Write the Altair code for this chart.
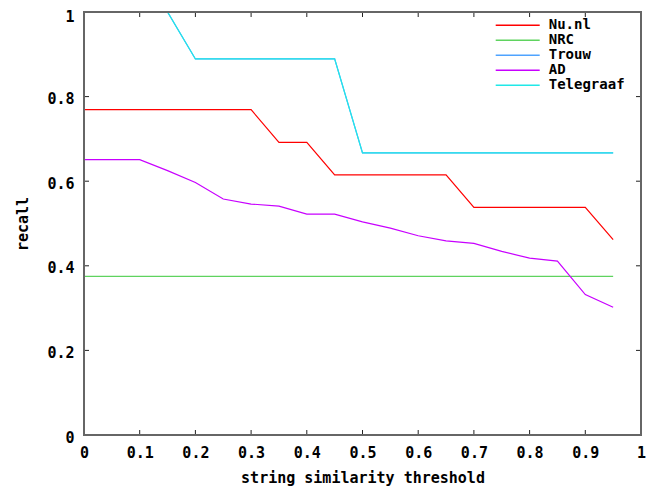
import altair as alt
import pandas as pd

threshold = [0.0, 0.05, 0.1, 0.15, 0.2, 0.25, 0.3, 0.35, 0.4, 0.45,
             0.5, 0.55, 0.6, 0.65, 0.7, 0.75, 0.8, 0.85, 0.9, 0.95]

nu_nl = [0.769, 0.769, 0.769, 0.769, 0.769, 0.769, 0.769, 0.692, 0.692, 0.615,
         0.615, 0.615, 0.615, 0.615, 0.538, 0.538, 0.538, 0.538, 0.538, 0.462]
nrc = [0.375, 0.375, 0.375, 0.375, 0.375, 0.375, 0.375, 0.375, 0.375, 0.375,
       0.375, 0.375, 0.375, 0.375, 0.375, 0.375, 0.375, 0.375, 0.375, 0.375]
trouw = [1.0, 1.0, 1.0, 1.0, 0.889, 0.889, 0.889, 0.889, 0.889, 0.889,
         0.667, 0.667, 0.667, 0.667, 0.667, 0.667, 0.667, 0.667, 0.667, 0.667]
ad = [0.651, 0.651, 0.651, 0.625, 0.597, 0.558, 0.546, 0.541, 0.522, 0.522,
      0.504, 0.489, 0.471, 0.459, 0.453, 0.434, 0.418, 0.411, 0.332, 0.302]
telegraaf = [1.0, 1.0, 1.0, 1.0, 0.889, 0.889, 0.889, 0.889, 0.889, 0.889,
             0.667, 0.667, 0.667, 0.667, 0.667, 0.667, 0.667, 0.667, 0.667, 0.667]

series_names = ["Nu.nl", "NRC", "Trouw", "AD", "Telegraaf"]
series_colors = ["#ff0000", "#5fd35f", "#4fa3ff", "#c800ff", "#20e8e8"]

x_ticks = [0, 0.1, 0.2, 0.3, 0.4, 0.5, 0.6, 0.7, 0.8, 0.9, 1]
y_ticks = [0, 0.2, 0.4, 0.6, 0.8, 1]

rows = []
for name, vals in zip(series_names, [nu_nl, nrc, trouw, ad, telegraaf]):
    for t, v in zip(threshold, vals):
        rows.append({"threshold": t, "recall": v, "series": name})
df = pd.DataFrame(rows)
xtick_df = pd.DataFrame({"threshold": x_ticks})
ytick_df = pd.DataFrame({"recall": y_ticks})

W, H = 557, 423
TICK = 5
FONT = "DejaVu Sans Mono"
FS = 15
FW = "bold"
TICK_COLOR = "#222222"

xscale = alt.Scale(domain=[0, 1], nice=False, zero=False)
yscale = alt.Scale(domain=[0, 1], nice=False, zero=False)

color = alt.Color(
    "series:N",
    scale=alt.Scale(domain=series_names, range=series_colors),
    legend=alt.Legend(
        title=None, orient="none", legendX=410.7, legendY=5.7,
        symbolType="stroke", symbolSize=1936, symbolStrokeWidth=1.5,
        labelFont=FONT, labelFontSize=14, labelFontWeight=FW, labelColor="black",
        labelOffset=8, padding=0, rowPadding=0, clipHeight=15, labelLimit=200,
    ),
)

x_enc = alt.X("threshold:Q", scale=xscale, axis=alt.Axis(
    orient="bottom", values=x_ticks, format="~g", labelFont=FONT, labelFontSize=FS,
    labelFontWeight=FW, labelColor="black", labelPadding=10, labelFlush=False,
    labelOverlap=False, ticks=False, tickSize=0, domain=False, grid=False,
    title="string similarity threshold", titleFont=FONT,
    titleFontSize=FS, titleFontWeight=FW, titleColor="black", titlePadding=10))
y_enc = alt.Y("recall:Q", scale=yscale, axis=alt.Axis(
    orient="left", values=y_ticks, format="~g", labelFont=FONT, labelFontSize=FS,
    labelFontWeight=FW, labelColor="black", labelPadding=10, labelFlush=False,
    labelOverlap=False, ticks=False, tickSize=0, domain=False, grid=False,
    labelOffset={"condition": {"test": "datum.value == 1", "value": 4}, "value": 2},
    title="recall", titleFont=FONT,
    titleFontSize=FS, titleFontWeight=FW, titleColor="black", titlePadding=16))

base = alt.Chart(df)

back = base.transform_filter(alt.datum.series == "Trouw").mark_line(
    strokeWidth=1.2, clip=True).encode(x=x_enc, y=y_enc, color=color)
front = base.transform_filter(alt.datum.series != "Trouw").mark_line(
    strokeWidth=1.2, clip=True).encode(x=x_enc, y=y_enc, color=color)

# inward tick marks on all four sides (gnuplot style)
tick_bottom = alt.Chart(xtick_df).mark_rule(color=TICK_COLOR, strokeWidth=1).encode(
    x=x_enc, y=alt.value(H), y2=alt.value(H - TICK))
tick_top = alt.Chart(xtick_df).mark_rule(color=TICK_COLOR, strokeWidth=1).encode(
    x=x_enc, y=alt.value(0), y2=alt.value(TICK))
tick_left = alt.Chart(ytick_df).mark_rule(color=TICK_COLOR, strokeWidth=1).encode(
    y=y_enc, x=alt.value(0), x2=alt.value(TICK))
tick_right = alt.Chart(ytick_df).mark_rule(color=TICK_COLOR, strokeWidth=1).encode(
    y=y_enc, x=alt.value(W), x2=alt.value(W - TICK))

border = alt.Chart(pd.DataFrame({"k": [0]})).mark_rect(
    fill="transparent", stroke="#666666", strokeWidth=2).encode(
    x=alt.value(0), x2=alt.value(W), y=alt.value(0), y2=alt.value(H))

chart = alt.layer(
    back, front, tick_bottom, tick_top, tick_left, tick_right, border
).properties(
    width=W, height=H,
    autosize=alt.AutoSizeParams(type="none"),
    padding={"left": 76, "top": 4, "right": 14, "bottom": 56},
    background="white",
).configure_view(strokeWidth=0)

chart.save("out.html", embed_options={"renderer": "svg", "actions": False})
